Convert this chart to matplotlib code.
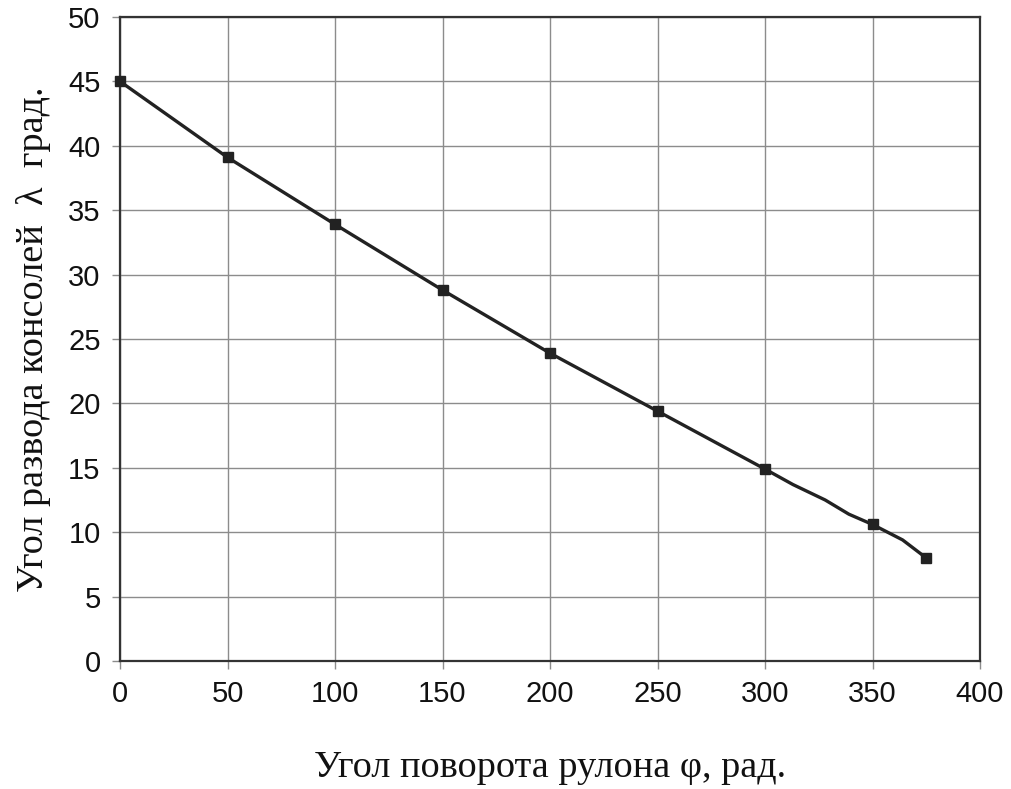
import matplotlib
matplotlib.use("Agg")
import matplotlib.pyplot as plt

# Roll rotation angle (marked points) and console spread angle
phi_marked = [0, 50, 100, 150, 200, 250, 300, 350, 375]
lam_marked = [45.0, 39.1, 33.9, 28.8, 23.9, 19.4, 14.9, 10.6, 8.0]

# Full calculated curve (includes unmarked intermediate points)
phi_curve = [0, 50, 100, 150, 200, 250, 300, 313, 328, 339, 350, 364, 375]
lam_curve = [45.0, 39.1, 33.9, 28.8, 23.9, 19.4, 14.9, 13.7, 12.5, 11.4, 10.6, 9.4, 8.0]

x_ticks = [0, 50, 100, 150, 200, 250, 300, 350, 400]
y_ticks = [0, 5, 10, 15, 20, 25, 30, 35, 40, 45, 50]

fig = plt.figure(figsize=(10.12, 7.89), dpi=100)
ax = fig.add_axes([120 / 1012, 1 - 661 / 789, 860 / 1012, 644 / 789])

ax.plot(phi_curve, lam_curve, color="#222222", linewidth=2.4, zorder=3)
ax.plot(phi_marked, lam_marked, linestyle="none", marker="s", markersize=7.5,
        color="#222222", zorder=4, clip_on=False)

ax.set_xlim(0, 400)
ax.set_ylim(0, 50)
ax.set_xticks(x_ticks)
ax.set_yticks(y_ticks)
ax.grid(True, color="#8c8c8c", linewidth=1.0)
ax.set_axisbelow(True)

for side in ["left", "bottom", "top", "right"]:
    ax.spines[side].set_color("#333333")
    ax.spines[side].set_linewidth(1.6)

ax.tick_params(axis="both", direction="out", length=6, width=1.0, color="#8c8c8c",
               labelsize=21, labelcolor="#111111", pad=8)
for lbl in ax.get_xticklabels() + ax.get_yticklabels():
    lbl.set_fontfamily("Liberation Sans")

ax.set_xlabel("Угол поворота рулона φ, рад.", fontfamily="Liberation Serif",
              fontsize=27.5, color="#111111", labelpad=30)
ax.set_ylabel("Угол развода консолей  λ  град.", fontfamily="Liberation Serif",
              fontsize=27.5, color="#111111", labelpad=12)

fig.savefig("out.png", dpi=100)
